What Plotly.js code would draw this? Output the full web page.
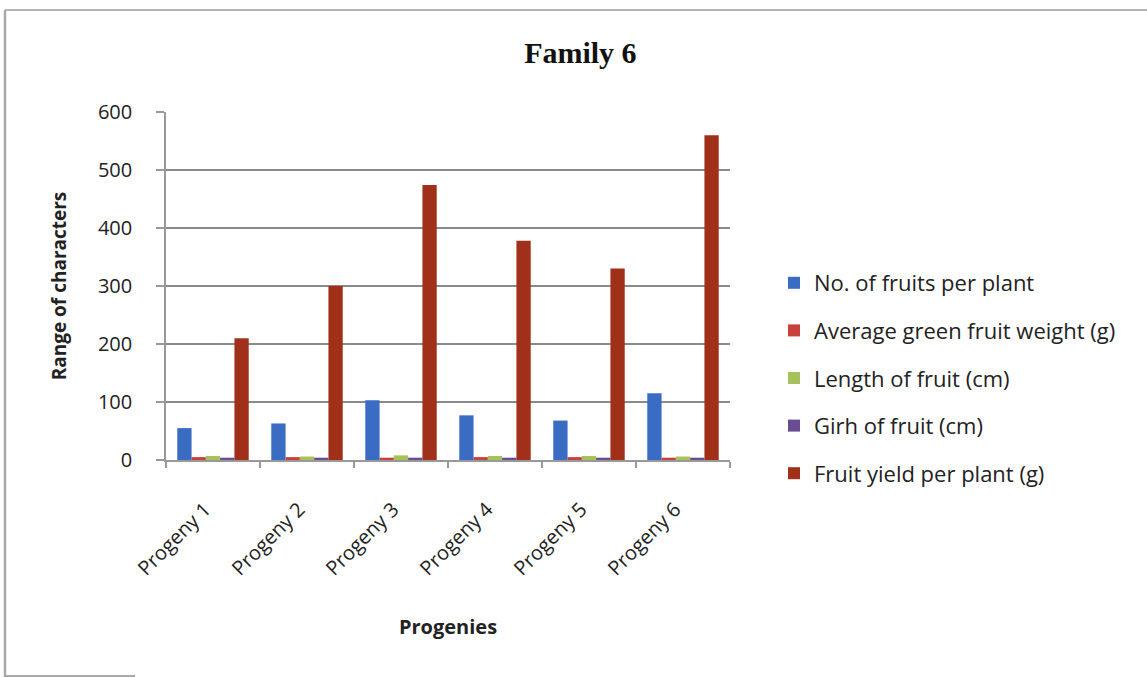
<!DOCTYPE html>
<html>
<head>
<meta charset="utf-8">
<script src="https://cdn.plot.ly/plotly-3.0.1.min.js"></script>
<style>
html,body{margin:0;padding:0;background:#fff;}
#chart{width:1147px;height:677px;}
</style>
</head>
<body>
<div id="chart"></div>
<script>
const categories = ["Progeny 1","Progeny 2","Progeny 3","Progeny 4","Progeny 5","Progeny 6"];
const seriesNames = ["No. of fruits per plant","Average green fruit weight (g)","Length of fruit (cm)","Girh of fruit (cm)","Fruit yield per plant (g)"];
const fruitsPerPlant = [55, 63, 103, 77, 68, 115];
const avgFruitWeight = [5, 5, 4, 5, 5, 4];
const fruitLength = [7, 6, 8, 7, 7, 6];
const fruitGirth = [4, 4, 4, 4, 4, 4];
const fruitYield = [210, 300, 474, 378, 330, 560];
const yTicks = [0, 100, 200, 300, 400, 500, 600];

const seriesValues = [fruitsPerPlant, avgFruitWeight, fruitLength, fruitGirth, fruitYield];
const colors = ["#3a6cc4", "#c8413c", "#a6c05c", "#6a4c93", "#a0301a"];

const traces = seriesNames.map((n, i) => ({
  type: "bar",
  name: n,
  x: categories,
  y: seriesValues[i],
  legendgroup: "g" + i,
  marker: {color: colors[i], line: {width: 0}},
  hoverinfo: "x+y+name"
}));

// plot area geometry (pixels)
const L = 166, R = 730, T = 112, B = 460;
const W = 1147, H = 677;
const px = v => (v - L) / (R - L);
const py = v => (B - v) / (B - T);

const layout = {
  width: W, height: H,
  margin: {l: L, r: W - R, t: T, b: H - B, pad: 0},
  paper_bgcolor: "#fff",
  plot_bgcolor: "rgba(0,0,0,0)",
  barmode: "group",
  bargap: 0.24,
  bargroupgap: 0,
  title: {
    text: "<b>Family 6</b>",
    font: {family: "Liberation Serif, Times New Roman, serif", size: 30, color: "#111"},
    x: 0.506, xref: "container", xanchor: "center",
    y: 1 - 52 / H, yref: "container", yanchor: "middle"
  },
  font: {family: "Open Sans, DejaVu Sans, sans-serif", color: "#222"},
  xaxis: {
    type: "category",
    tickangle: -45,
    tickfont: {size: 20, color: "#222"},
    ticks: "outside", tickson: "boundaries", ticklen: 6, tickcolor: "#999", tickwidth: 1.5,
    ticklabelshift: -8,
    ticklabelstandoff: 28,
    showline: true, linecolor: "#999", linewidth: 1.5,
    showgrid: false,
    title: {text: "<b>Progenies</b>", font: {size: 20, color: "#222"}, standoff: 40}
  },
  yaxis: {
    range: [0, 600],
    tickvals: yTicks,
    tickfont: {size: 20, color: "#222"},
    ticks: "outside", ticklen: 8, tickcolor: "#999", tickwidth: 1.5,
    ticklabelstandoff: 20,
    showline: true, linecolor: "#999", linewidth: 1.5,
    showgrid: true, gridcolor: "#8a8a8a", gridwidth: 1.5,
    zeroline: false,
    title: {text: "<b>Range of characters</b>", font: {size: 19, color: "#222"}, standoff: 26}
  },
  legend: {
    x: px(774), xanchor: "left",
    y: py(378), yanchor: "middle",
    font: {size: 22, color: "#222"},
    tracegroupgap: 16,
    bgcolor: "rgba(0,0,0,0)",
    itemclick: false
  },
  shapes: [
    {type: "line", xref: "paper", yref: "paper",
     x0: px(5), x1: px(1147), y0: py(10), y1: py(10),
     line: {color: "#b5b5b5", width: 2}},
    {type: "line", xref: "paper", yref: "paper",
     x0: px(5), x1: px(5), y0: py(10), y1: py(677),
     line: {color: "#a8a8a8", width: 2.5}},
    {type: "line", xref: "paper", yref: "paper",
     x0: px(5), x1: px(135), y0: py(676), y1: py(676),
     line: {color: "#a8a8a8", width: 2}}
  ]
};

Plotly.newPlot("chart", traces, layout, {displayModeBar: false});
</script>
</body>
</html>
